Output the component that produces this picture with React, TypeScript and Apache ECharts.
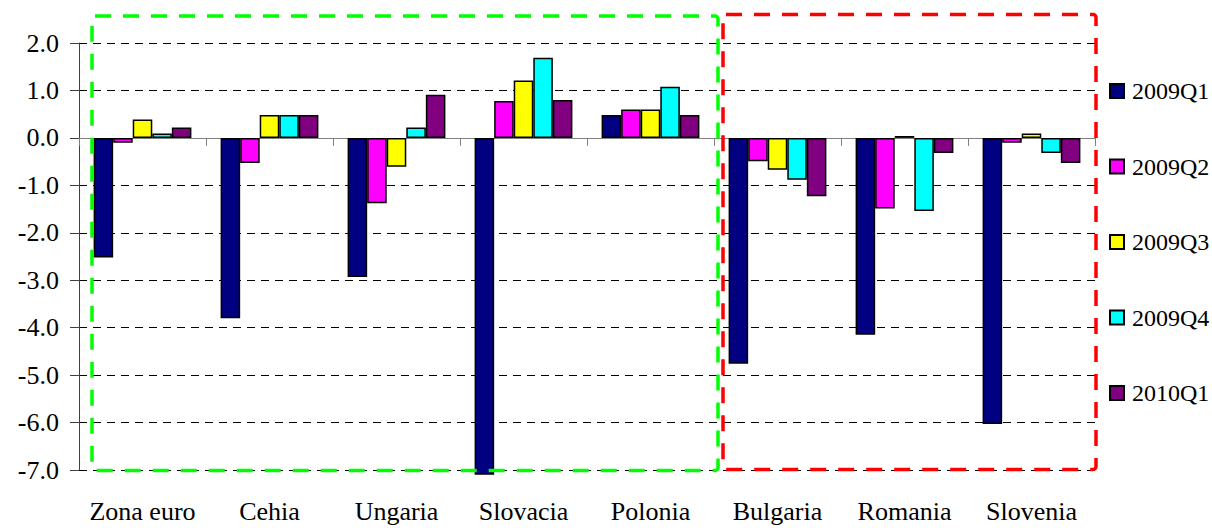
import React, { useEffect, useRef } from "react";
import * as echarts from "echarts";

const categories = ["Zona euro", "Cehia", "Ungaria", "Slovacia", "Polonia", "Bulgaria", "Romania", "Slovenia"];
const seriesNames = ["2009Q1", "2009Q2", "2009Q3", "2009Q4", "2010Q1"];
const colors = ["#000080", "#FF00FF", "#FFFF00", "#00FFFF", "#800080"];
const q1_2009 = [-2.52, -3.8, -2.93, -7.1, 0.48, -4.76, -4.15, -6.03];
const q2_2009 = [-0.1, -0.53, -1.38, 0.78, 0.6, -0.49, -1.49, -0.1];
const q3_2009 = [0.39, 0.48, -0.61, 1.21, 0.6, -0.67, 0.04, 0.09];
const q4_2009 = [0.09, 0.48, 0.22, 1.69, 1.08, -0.88, -1.54, -0.32];
const q1_2010 = [0.22, 0.48, 0.91, 0.8, 0.48, -1.23, -0.32, -0.53];
const seriesValues = [q1_2009, q2_2009, q3_2009, q4_2009, q1_2010];
const yTicks = { min: -7, max: 2, interval: 1 };

const FONT = "Times New Roman, Liberation Serif, DejaVu Serif, serif";

export default function App() {
  const ref = useRef<HTMLDivElement>(null);
  useEffect(() => {
    if (!ref.current) return;
    const chart = echarts.init(ref.current, undefined, { renderer: "svg" });
    const option: any = {
      animation: false,
      backgroundColor: "#ffffff",
      textStyle: { fontFamily: FONT },
      grid: { left: 79, right: 117, top: 43, bottom: 61, containLabel: false },
      legend: {
        orient: "vertical",
        left: 1109,
        top: 79,
        padding: 0,
        itemWidth: 14,
        itemHeight: 14,
        itemGap: 51.5,
        icon: "rect",
        data: seriesNames,
        textStyle: { fontFamily: FONT, fontSize: 24, color: "#000", lineHeight: 24, padding: [0, 0, 0, 3] },
      },
      xAxis: [
        {
          type: "category",
          data: categories,
          position: "bottom",
          axisLine: { show: false, onZero: false },
          axisTick: { show: false },
          axisLabel: { fontFamily: FONT, fontSize: 26, color: "#000", margin: 28, interval: 0 },
          splitLine: { show: false },
        },
        {
          type: "category",
          data: categories,
          position: "bottom",
          axisLine: { show: true, onZero: true, lineStyle: { color: "#808080", width: 1 } },
          axisTick: { show: true, interval: 0, length: 8, lineStyle: { color: "#808080" } },
          axisLabel: { show: false },
          splitLine: { show: false },
        },
      ],
      yAxis: {
        type: "value",
        min: yTicks.min,
        max: yTicks.max,
        interval: yTicks.interval,
        axisLine: { show: true, lineStyle: { color: "#404040", width: 1 } },
        axisTick: { show: true, length: 9, lineStyle: { color: "#404040" } },
        axisLabel: {
          fontFamily: FONT,
          fontSize: 26,
          color: "#000",
          margin: 20,
          formatter: (v: number) => v.toFixed(1),
        },
        splitLine: { show: true, lineStyle: { color: "#000", type: [8, 6], width: 1 } },
      },
      series: seriesNames.map((name, i) => ({
        name,
        type: "bar",
        xAxisIndex: 0,
        data: seriesValues[i],
        barGap: "0%",
        barCategoryGap: "23%",
        clip: false,
        itemStyle: { color: colors[i], borderColor: "#000", borderWidth: 1.5 },
      })),
      graphic: [
        {
          type: "rect",
          z: 100,
          shape: { x: 92, y: 16, width: 626, height: 454.5, r: 3 },
          style: { fill: "none", stroke: "#00FF00", lineWidth: 3.5, lineDash: [16, 12] },
        },
        {
          type: "rect",
          z: 100,
          shape: { x: 723, y: 14.5, width: 373, height: 455, r: 3 },
          style: { fill: "none", stroke: "#FF0000", lineWidth: 3.5, lineDash: [16, 12] },
        },
      ],
    };
    chart.setOption(option);
    return () => chart.dispose();
  }, []);
  return (
    <div
      ref={ref}
      style={{ position: "fixed", left: 0, top: 0, width: 1212, height: 531, background: "#fff" }}
    />
  );
}
